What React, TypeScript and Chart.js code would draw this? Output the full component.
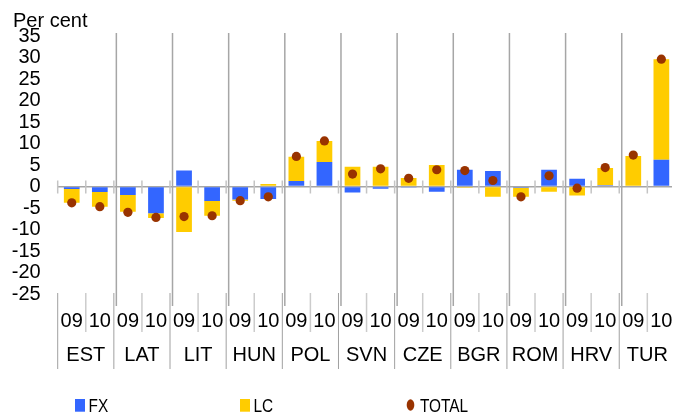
import React, { useEffect, useRef } from 'react';
import { Chart, registerables } from 'chart.js';

Chart.register(...registerables);

const countries = ['EST', 'LAT', 'LIT', 'HUN', 'POL', 'SVN', 'CZE', 'BGR', 'ROM', 'HRV', 'TUR'];
const years = ['09', '10'];
const fxValues = [-0.6, -1.3, -2.0, -6.2, 3.7, -3.4, -3.0, -2.9, 1.3, 5.7, -1.4, -0.5, -0.1, -1.2, 3.9, 3.6, -0.3, 3.9, 1.8, 0.3, 0.0, 6.2];
const lcValues = [-3.2, -3.4, -3.9, -1.1, -10.6, -3.4, -0.3, 0.6, 5.6, 4.9, 4.6, 4.6, 2.0, 5.0, -0.3, -2.4, -2.1, -1.2, -2.1, 4.0, 7.1, 23.4];
const totalValues = [-3.8, -4.7, -6.0, -7.2, -7.0, -6.8, -3.3, -2.4, 7.0, 10.6, 2.9, 4.1, 1.9, 3.9, 3.7, 1.4, -2.4, 2.5, -0.4, 4.4, 7.3, 29.6];
const yTickValues = [35, 30, 25, 20, 15, 10, 5, 0, -5, -10, -15, -20, -25];
const yAxisTitle = 'Per cent';

const categories = countries.flatMap((c) => years.map((y) => `${c} ${y}`));

const FONT = '"Liberation Sans", Arial, Helvetica, sans-serif';
const COLORS = { fx: '#3366FF', lc: '#FFCC00', total: '#993300' };
const LEGEND_X = [75, 240, 406];

const overlayPlugin = {
  id: 'overlay',
  beforeDatasetsDraw(chart: any) {
    const { ctx, chartArea, scales } = chart;
    const x = scales.x;
    const y = scales.y;
    const slot = x.getPixelForValue(1) - x.getPixelForValue(0);
    const b = (k: number) => x.getPixelForValue(0) - slot / 2 + k * slot;
    const y0 = y.getPixelForValue(0);
    ctx.save();
    ctx.strokeStyle = '#c4c4c4';
    ctx.lineWidth = 1.5;
    for (let k = 0; k <= categories.length; k++) {
      ctx.beginPath();
      ctx.moveTo(b(k), y0 - 6);
      ctx.lineTo(b(k), y0 + 7);
      ctx.stroke();
    }
    ctx.strokeStyle = '#a6a6a6';
    ctx.lineWidth = 1.5;
    for (let c = 1; c < countries.length; c++) {
      const px = b(c * years.length) + 2.5;
      ctx.beginPath();
      ctx.moveTo(px, chartArea.top - 3);
      ctx.lineTo(px, chartArea.bottom + 12);
      ctx.stroke();
    }
    ctx.restore();
  },
  afterDraw(chart: any) {
    const { ctx, chartArea, scales } = chart;
    const x = scales.x;
    const slot = x.getPixelForValue(1) - x.getPixelForValue(0);
    const b = (k: number) => x.getPixelForValue(0) - slot / 2 + k * slot;
    const top = chartArea.bottom - 1;
    ctx.save();
    for (let k = 0; k <= categories.length; k++) {
      const isCountry = k % years.length === 0;
      ctx.beginPath();
      ctx.strokeStyle = isCountry ? '#a0a0a0' : '#cccccc';
      ctx.lineWidth = isCountry ? 1 : 1.5;
      ctx.moveTo(b(k), top);
      ctx.lineTo(b(k), isCountry ? 369 : 332);
      ctx.stroke();
    }
    ctx.fillStyle = '#000';
    ctx.font = `20px ${FONT}`;
    ctx.textAlign = 'center';
    ctx.textBaseline = 'middle';
    categories.forEach((_, i) => {
      ctx.fillText(years[i % years.length], x.getPixelForValue(i), 321);
    });
    countries.forEach((c, i) => {
      const cx = (x.getPixelForValue(i * 2) + x.getPixelForValue(i * 2 + 1)) / 2;
      ctx.fillText(c, cx, 355);
    });
    ctx.textAlign = 'left';
    ctx.textBaseline = 'alphabetic';
    ctx.fillText(yAxisTitle, 13, 27);
    ctx.font = `19px ${FONT}`;
    const legendOrder = ['FX', 'LC', 'TOTAL'];
    legendOrder.forEach((name, i) => {
      const ds: any = chart.data.datasets.find((d: any) => d.label === name);
      if (!ds) return;
      const lx = LEGEND_X[i];
      ctx.fillStyle = ds.legendColor;
      let tx;
      if (ds.type === 'line') {
        ctx.beginPath();
        ctx.ellipse(lx + 4.5, 405, 3.8, 5.7, 0, 0, Math.PI * 2);
        ctx.fill();
        tx = lx + 14;
      } else {
        ctx.fillRect(lx, 399, 10, 12.7);
        tx = lx + 13.5;
      }
      ctx.fillStyle = '#000';
      ctx.save();
      ctx.translate(tx, 411.5);
      ctx.scale(0.81, 1);
      ctx.fillText(ds.label, 0, 0);
      ctx.restore();
    });
    ctx.restore();
  },
};

export default function App() {
  const ref = useRef<HTMLCanvasElement | null>(null);
  useEffect(() => {
    if (!ref.current) return;
    const chart = new Chart(ref.current, {
      type: 'bar',
      data: {
        labels: categories,
        datasets: [
          {
            type: 'bar',
            label: 'FX',
            data: fxValues,
            backgroundColor: COLORS.fx,
            stack: 'bars',
            order: 1,
            categoryPercentage: 1,
            barPercentage: 0.56,
            legendColor: COLORS.fx,
          } as any,
          {
            type: 'bar',
            label: 'LC',
            data: lcValues,
            backgroundColor: COLORS.lc,
            stack: 'bars',
            order: 2,
            categoryPercentage: 1,
            barPercentage: 0.56,
            legendColor: COLORS.lc,
          } as any,
          {
            type: 'line',
            label: 'TOTAL',
            data: totalValues,
            showLine: false,
            pointRadius: 4.6,
            pointHoverRadius: 4.6,
            pointBackgroundColor: COLORS.total,
            pointBorderWidth: 0,
            borderColor: COLORS.total,
            backgroundColor: COLORS.total,
            stack: 'total',
            order: 0,
            legendColor: COLORS.total,
          } as any,
        ],
      },
      options: {
        responsive: false,
        devicePixelRatio: 1,
        animation: false,
        layout: { padding: { left: 0, right: -3.4, top: 36, bottom: 120 } },
        plugins: { legend: { display: false }, tooltip: { enabled: false } },
        scales: {
          x: {
            type: 'category',
            display: false,
            stacked: true,
            offset: true,
          },
          y: {
            stacked: true,
            min: -25,
            max: 35,
            afterBuildTicks: (s: any) => {
              s.ticks = yTickValues.map((v) => ({ value: v }));
            },
            afterFit: (s: any) => {
              s.width = 57.7;
            },
            border: { display: false },
            grid: {
              drawTicks: false,
              color: (c: any) => (c.tick && c.tick.value === 0 ? '#a6a6a6' : 'rgba(0,0,0,0)'),
              lineWidth: 1.5,
            },
            ticks: {
              autoSkip: false,
              padding: 17,
              color: '#000',
              font: { family: FONT, size: 20 },
              callback: (v: any) => String(v),
            },
          },
        },
      },
      plugins: [overlayPlugin],
    });
    return () => chart.destroy();
  }, []);
  return (
    <div style={{ margin: '-8px -8px 0 -8px', height: 414, width: 680, position: 'relative', overflow: 'hidden' }}>
      <canvas ref={ref} width={680} height={414} style={{ display: 'block', width: 680, height: 414 }} />
    </div>
  );
}
